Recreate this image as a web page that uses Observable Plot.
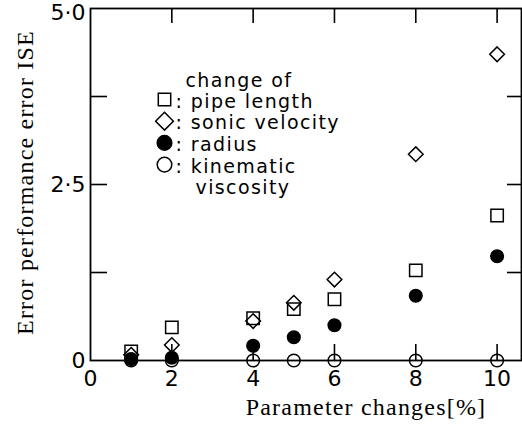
<!DOCTYPE html>
<html><head><meta charset="utf-8">
<script src="https://cdn.jsdelivr.net/npm/d3@7"></script>
<script src="https://cdn.jsdelivr.net/npm/@observablehq/plot@0.6"></script>
<style>body{margin:0;background:#fff}</style>
</head><body><div id="chart"></div>
<script>
const xValues = [1, 2, 4, 5, 6, 8, 10];
const pipeLength = [0.13, 0.47, 0.60, 0.73, 0.87, 1.28, 2.06];
const sonicVelocity = [0.08, 0.22, 0.56, 0.82, 1.15, 2.93, 4.35];
const radius = [0.02, 0.04, 0.21, 0.33, 0.50, 0.92, 1.48];
const kinematicViscosity = [0, 0, 0, 0, 0, 0, 0];
const xTickLabels = [0, 2, 4, 6, 8, 10];
const xInnerTicks = [2, 4, 6, 8, 10];
const yTickLabels = [0, 2.5];
const yTopLabel = [5];
const yInnerTicks = [1.25, 2.5, 3.75];
const legendTitle = "change of";
const legendNames = ["pipe length", "sonic velocity", "radius", "kinematic"];
const legendExtra = "viscosity";
const xTitle = "Parameter changes[%]";
const yTitle = "Error performance error ISE";

const seriesDefs = [
  {name: "kinematic", values: kinematicViscosity, symbol: "circle", fill: "none", r: 6.3},
  {name: "radius", values: radius, symbol: "circle", fill: "black", r: 6.3},
  {name: "sonic", values: sonicVelocity, symbol: "diamond2", fill: "none", r: 6.6},
  {name: "pipe", values: pipeLength, symbol: "square", fill: "none", r: 7}
];
const legendSymbols = [
  {symbol: "square", fill: "none", r: 7},
  {symbol: "diamond2", fill: "none", r: 8},
  {symbol: "circle", fill: "black", r: 7.3},
  {symbol: "circle", fill: "none", r: 7.3}
];

const W = 522, H = 433, mL = 90, mR = 1, mT = 8, mB = 73;
const pw = W - mL - mR, ph = H - mT - mB;
const sans = "'DejaVu Sans', sans-serif";
const serif = "'Liberation Serif', serif";
const fmt = d => d === 0 ? "0" : d.toFixed(1).replace(".", "·");

const marks = [];
for (const s of seriesDefs) {
  const rows = xValues.map((x, i) => ({x, y: s.values[i]}));
  marks.push(Plot.dot(rows, {x: "x", y: "y", symbol: () => s.symbol, r: s.r,
    stroke: "black", strokeWidth: 1.5, fill: s.fill}));
}
// inward ticks
marks.push(Plot.tickX(xInnerTicks, {x: d => d, insetBottom: ph - 15, stroke: "black", strokeWidth: 1.6}));
marks.push(Plot.tickX(xInnerTicks, {x: d => d, insetTop: ph - 16, stroke: "black", strokeWidth: 1.6}));
marks.push(Plot.tickY(yInnerTicks, {y: d => d, insetRight: pw - 17, stroke: "black", strokeWidth: 1.6}));
marks.push(Plot.tickY(yInnerTicks, {y: d => d, insetLeft: pw - 14, stroke: "black", strokeWidth: 1.6}));
marks.push(Plot.frame({stroke: "black", strokeWidth: 1.8}));
marks.push(Plot.axisX(xTickLabels, {tickSize: 0, tickPadding: 10, fontSize: 22, fontFamily: sans, label: null}));
marks.push(Plot.axisY(yTickLabels, {tickSize: 0, tickPadding: 5, fontSize: 22, fontFamily: sans, label: null,
  tickFormat: fmt}));
marks.push(Plot.axisY(yTopLabel, {tickSize: 0, tickPadding: 5, fontSize: 22, fontFamily: sans, label: null,
  tickFormat: fmt, lineAnchor: "top", dy: -4}));
// titles
marks.push(Plot.text([xTitle], {text: d => d, frameAnchor: "bottom", dx: 60, dy: 47, fontSize: 24,
  fontFamily: serif, textAnchor: "middle", lineAnchor: "middle"}));
marks.push(Plot.text([yTitle], {text: d => d, frameAnchor: "left", dx: -65, dy: -2, rotate: -90, fontSize: 24,
  fontFamily: serif, textAnchor: "middle", lineAnchor: "middle"}));
// legend
const rowH = 21.7;
marks.push(Plot.text([legendTitle], {text: d => d, frameAnchor: "top-left", dx: 95, dy: 72, textAnchor: "start",
  lineAnchor: "middle", fontSize: 19, fontFamily: sans}));
legendNames.forEach((n, i) => {
  const sym = legendSymbols[i];
  marks.push(Plot.dot([n], {frameAnchor: "top-left", dx: 74, dy: 91 + i * rowH, symbol: () => sym.symbol,
    r: sym.r, stroke: "black", strokeWidth: 1.5, fill: sym.fill}));
  marks.push(Plot.text([n], {text: d => ": " + d, frameAnchor: "top-left", dx: 85, dy: 93 + i * rowH,
    textAnchor: "start", lineAnchor: "middle", fontSize: 19, fontFamily: sans}));
});
marks.push(Plot.text([legendExtra], {text: d => d, frameAnchor: "top-left", dx: 105, dy: 93 + 4 * rowH,
  textAnchor: "start", lineAnchor: "middle", fontSize: 19, fontFamily: sans}));

const chart = Plot.plot({
  width: W, height: H,
  marginLeft: mL, marginRight: mR, marginTop: mT, marginBottom: mB,
  x: {domain: [0, 10.6], axis: null},
  y: {domain: [0, 5], axis: null},
  style: {background: "white", color: "black", fontFamily: sans, overflow: "visible"},
  marks
});
chart.querySelectorAll('[font-size="19"]').forEach(g => { g.style.letterSpacing = "1.4px"; });
chart.querySelectorAll('[font-size="24"]').forEach(g => { g.style.letterSpacing = "1.2px"; });
document.getElementById("chart").appendChild(chart);
</script>
</body></html>
